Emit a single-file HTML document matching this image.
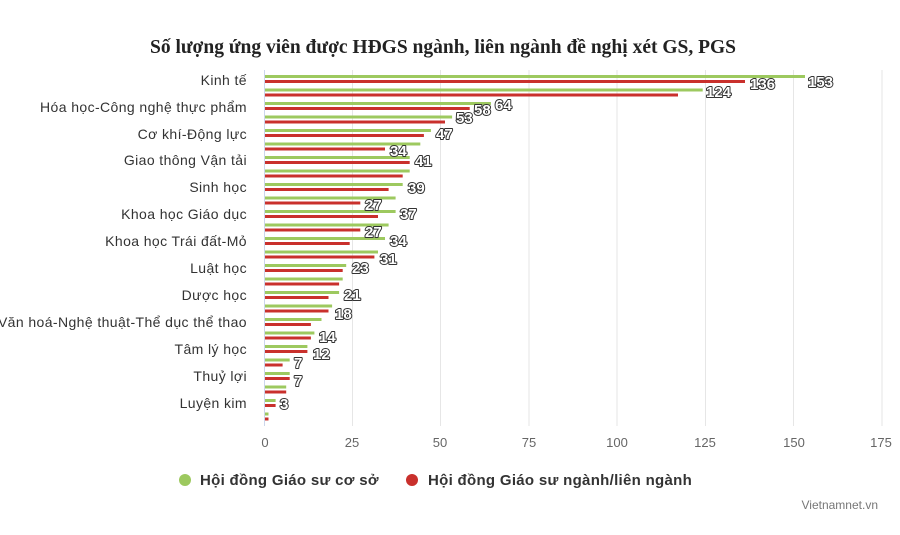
<!DOCTYPE html>
<html><head><meta charset="utf-8"><style>
body{margin:0;background:#fff;}
svg text{font-family:"Liberation Sans",sans-serif;}
</style></head><body>
<svg width="900" height="530" xmlns="http://www.w3.org/2000/svg">
<text x="443" y="53" text-anchor="middle" style="font-family:'Liberation Serif',serif;font-weight:bold;font-size:19.5px" fill="#222">Số lượng ứng viên được HĐGS ngành, liên ngành đề nghị xét GS, PGS</text>
<g stroke="#e6e6e6" stroke-width="1">
<line x1="352.5" y1="70" x2="352.5" y2="426"/><line x1="440.5" y1="70" x2="440.5" y2="426"/><line x1="529" y1="70" x2="529" y2="426"/><line x1="617" y1="70" x2="617" y2="426"/><line x1="705.5" y1="70" x2="705.5" y2="426"/><line x1="793.5" y1="70" x2="793.5" y2="426"/><line x1="882" y1="70" x2="882" y2="426"/>
</g>
<line x1="264.5" y1="70" x2="264.5" y2="426" stroke="#ccd6eb"/>
<g font-size="14" fill="#333" text-anchor="end" letter-spacing="0.4">
<text x="247" y="85">Kinh tế</text>
<text x="247" y="112">Hóa học-Công nghệ thực phẩm</text>
<text x="247" y="139">Cơ khí-Động lực</text>
<text x="247" y="165">Giao thông Vận tải</text>
<text x="247" y="192">Sinh học</text>
<text x="247" y="219">Khoa học Giáo dục</text>
<text x="247" y="246">Khoa học Trái đất-Mỏ</text>
<text x="247" y="273">Luật học</text>
<text x="247" y="300">Dược học</text>
<text x="247" y="327">Văn hoá-Nghệ thuật-Thể dục thể thao</text>
<text x="247" y="354">Tâm lý học</text>
<text x="247" y="381">Thuỷ lợi</text>
<text x="247" y="408">Luyện kim</text>
</g>
<g font-size="13" fill="#666" text-anchor="middle">
<text x="265" y="447">0</text><text x="352" y="447">25</text><text x="440" y="447">50</text><text x="529" y="447">75</text><text x="617" y="447">100</text><text x="705" y="447">125</text><text x="794" y="447">150</text><text x="881" y="447">175</text>
</g>
<g fill="#9dc95f">
<rect x="265" y="75" width="540" height="3"/><rect x="265" y="88.5" width="437.7" height="3"/><rect x="265" y="102" width="225.9" height="3"/><rect x="265" y="115.5" width="187.1" height="3"/><rect x="265" y="129" width="165.9" height="3"/><rect x="265" y="142.5" width="155.3" height="3"/><rect x="265" y="156" width="144.7" height="3"/><rect x="265" y="169.5" width="144.7" height="3"/><rect x="265" y="183" width="137.7" height="3"/><rect x="265" y="196.5" width="130.6" height="3"/><rect x="265" y="210" width="130.6" height="3"/><rect x="265" y="223.5" width="123.6" height="3"/><rect x="265" y="237" width="120" height="3"/><rect x="265" y="250.5" width="113" height="3"/><rect x="265" y="264" width="81.2" height="3"/><rect x="265" y="277.5" width="77.7" height="3"/><rect x="265" y="291" width="74.1" height="3"/><rect x="265" y="304.5" width="67.1" height="3"/><rect x="265" y="318" width="56.5" height="3"/><rect x="265" y="331.5" width="49.4" height="3"/><rect x="265" y="345" width="42.4" height="3"/><rect x="265" y="358.5" width="24.7" height="3"/><rect x="265" y="372" width="24.7" height="3"/><rect x="265" y="385.5" width="21.2" height="3"/><rect x="265" y="399" width="10.6" height="3"/><rect x="265" y="412.5" width="3.5" height="3"/>
</g>
<g fill="#c9302c">
<rect x="265" y="80" width="480" height="3"/><rect x="265" y="93.5" width="413" height="3"/><rect x="265" y="107" width="204.7" height="3"/><rect x="265" y="120.5" width="180" height="3"/><rect x="265" y="134" width="158.9" height="3"/><rect x="265" y="147.5" width="120" height="3"/><rect x="265" y="161" width="144.7" height="3"/><rect x="265" y="174.5" width="137.7" height="3"/><rect x="265" y="188" width="123.6" height="3"/><rect x="265" y="201.5" width="95.3" height="3"/><rect x="265" y="215" width="113" height="3"/><rect x="265" y="228.5" width="95.3" height="3"/><rect x="265" y="242" width="84.7" height="3"/><rect x="265" y="255.5" width="109.4" height="3"/><rect x="265" y="269" width="77.7" height="3"/><rect x="265" y="282.5" width="74.1" height="3"/><rect x="265" y="296" width="63.5" height="3"/><rect x="265" y="309.5" width="63.5" height="3"/><rect x="265" y="323" width="45.9" height="3"/><rect x="265" y="336.5" width="45.9" height="3"/><rect x="265" y="350" width="42.4" height="3"/><rect x="265" y="363.5" width="17.6" height="3"/><rect x="265" y="377" width="24.7" height="3"/><rect x="265" y="390.5" width="21.2" height="3"/><rect x="265" y="404" width="10.6" height="3"/><rect x="265" y="417.5" width="3.5" height="3"/>
</g>
<g font-size="15" font-weight="bold" fill="#fff" stroke="#333" stroke-width="2" style="paint-order:stroke" stroke-linejoin="round">
<text x="808" y="87">153</text><text x="750" y="89">136</text><text x="706" y="97">124</text>
<text x="495" y="110">64</text><text x="474" y="115">58</text><text x="456" y="123">53</text>
<text x="436" y="139">47</text><text x="390" y="156">34</text><text x="415" y="166">41</text>
<text x="408" y="193">39</text><text x="365" y="210">27</text><text x="400" y="219">37</text>
<text x="365" y="237">27</text><text x="390" y="246">34</text><text x="380" y="264">31</text>
<text x="352" y="273">23</text><text x="344" y="300">21</text><text x="335" y="319">18</text>
<text x="319" y="342">14</text><text x="313" y="359">12</text><text x="294" y="368">7</text>
<text x="294" y="386">7</text><text x="280" y="409">3</text>
</g>
<circle cx="185" cy="480" r="6" fill="#9dc95f"/>
<text x="200" y="485" font-size="15" font-weight="bold" fill="#333" letter-spacing="0.3">Hội đồng Giáo sư cơ sở</text>
<circle cx="412" cy="480" r="6" fill="#c9302c"/>
<text x="428" y="485" font-size="15" font-weight="bold" fill="#333" letter-spacing="0.3">Hội đồng Giáo sư ngành/liên ngành</text>
<text x="878" y="509" font-size="12" fill="#777" text-anchor="end">Vietnamnet.vn</text>
</svg>
</body></html>
